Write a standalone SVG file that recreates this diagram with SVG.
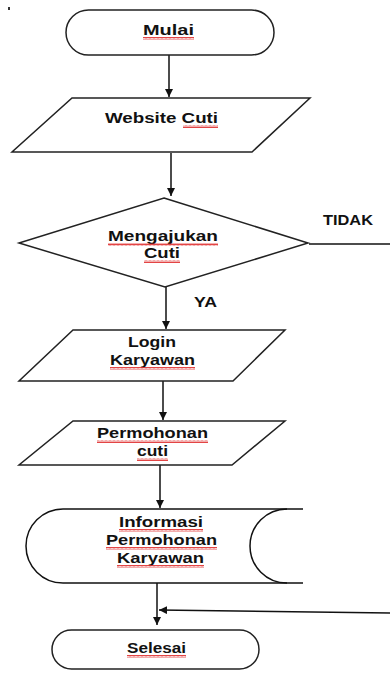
<svg xmlns="http://www.w3.org/2000/svg" width="390" height="673" viewBox="0 0 390 673">
<style>
.s{fill:#fff;stroke:#222;stroke-width:1.5}
.c{fill:none;stroke:#111;stroke-width:1.5}
.t{font-family:"Liberation Sans",Arial,sans-serif;font-weight:bold;font-size:14px;fill:#111}
.w{fill:url(#wave)}
</style>
<defs>
<marker id="ah" viewBox="0 0 10 10" refX="10" refY="5" markerWidth="8" markerHeight="8" markerUnits="userSpaceOnUse" orient="auto">
<path d="M0 0 L10 5 L0 10 Z" fill="#111"/>
</marker>
<pattern id="wave" width="4" height="3" patternUnits="userSpaceOnUse">
<path d="M0 2.5 L1 0.5 L2 2.5 L3 0.5 L4 2.5" fill="none" stroke="#e03030" stroke-width="0.9"/>
</pattern>
</defs>
<rect x="8" y="7" width="2" height="3" fill="#333"/>
<g id="connectors">
<line class="c" x1="169" y1="55" x2="169" y2="97" marker-end="url(#ah)"/>
<line class="c" x1="171" y1="153" x2="171" y2="196" marker-end="url(#ah)"/>
<line class="c" x1="166" y1="287" x2="166" y2="329" marker-end="url(#ah)"/>
<line class="c" x1="163" y1="381" x2="163" y2="420" marker-end="url(#ah)"/>
<line class="c" x1="160" y1="465" x2="160" y2="508" marker-end="url(#ah)"/>
<line class="c" x1="157" y1="583" x2="157" y2="625" marker-end="url(#ah)"/>
<line class="c" x1="309" y1="244" x2="390" y2="244"/>
<line class="c" x1="390" y1="613" x2="159" y2="610" marker-end="url(#ah)"/>
<text class="t" x="323" y="225" textLength="50" lengthAdjust="spacingAndGlyphs">TIDAK</text>
<text class="t" x="194" y="307" textLength="23" lengthAdjust="spacingAndGlyphs">YA</text>
</g>
<g id="mulai">
<rect class="s" x="66" y="10" width="208" height="45" rx="22.5"/>
<text class="t" x="143" y="35" textLength="51" lengthAdjust="spacingAndGlyphs">Mulai</text>
<rect class="w" x="143" y="37" width="51" height="3"/>
</g>
<g id="website">
<polygon class="s" points="72,98 310,98 252,152 12,152"/>
<text class="t" x="105" y="123" textLength="113" lengthAdjust="spacingAndGlyphs">Website Cuti</text>
<rect class="w" x="183" y="125" width="35" height="3"/>
</g>
<g id="mengajukan">
<polygon class="s" points="164,198 308,243 165,287 19,243"/>
<text class="t" x="108" y="241" textLength="110" lengthAdjust="spacingAndGlyphs">Mengajukan</text>
<rect class="w" x="108" y="243" width="110" height="3"/>
<text class="t" x="144" y="258" textLength="36" lengthAdjust="spacingAndGlyphs">Cuti</text>
<rect class="w" x="144" y="260" width="36" height="3"/>
</g>
<g id="login">
<polygon class="s" points="73,330 285,330 233,381 19,381"/>
<text class="t" x="128" y="347" textLength="48" lengthAdjust="spacingAndGlyphs">Login</text>
<text class="t" x="110" y="365" textLength="85" lengthAdjust="spacingAndGlyphs">Karyawan</text>
<rect class="w" x="110" y="367" width="85" height="3"/>
</g>
<g id="permohonan">
<polygon class="s" points="73,421 285,421 232,465 19,465"/>
<text class="t" x="97" y="438" textLength="111" lengthAdjust="spacingAndGlyphs">Permohonan</text>
<rect class="w" x="97" y="440" width="111" height="3"/>
<text class="t" x="137" y="456" textLength="31" lengthAdjust="spacingAndGlyphs">cuti</text>
<rect class="w" x="137" y="458" width="31" height="3"/>
</g>
<g id="informasi">
<path class="c" d="M63 509 H303 M303 583 H63 A37 37 0 0 1 63 509"/>
<path class="c" d="M287 509 A37 37 0 0 0 287 583"/>
<text class="t" x="119" y="527" textLength="84" lengthAdjust="spacingAndGlyphs">Informasi</text>
<rect class="w" x="119" y="529" width="84" height="3"/>
<text class="t" x="106" y="545" textLength="111" lengthAdjust="spacingAndGlyphs">Permohonan</text>
<rect class="w" x="106" y="547" width="111" height="3"/>
<text class="t" x="117" y="563" textLength="87" lengthAdjust="spacingAndGlyphs">Karyawan</text>
<rect class="w" x="117" y="565" width="87" height="3"/>
</g>
<g id="selesai">
<rect class="s" x="52" y="630" width="207" height="39" rx="19.5"/>
<text class="t" x="127" y="653" textLength="59" lengthAdjust="spacingAndGlyphs">Selesai</text>
<rect class="w" x="127" y="655" width="59" height="3"/>
</g>
</svg>
